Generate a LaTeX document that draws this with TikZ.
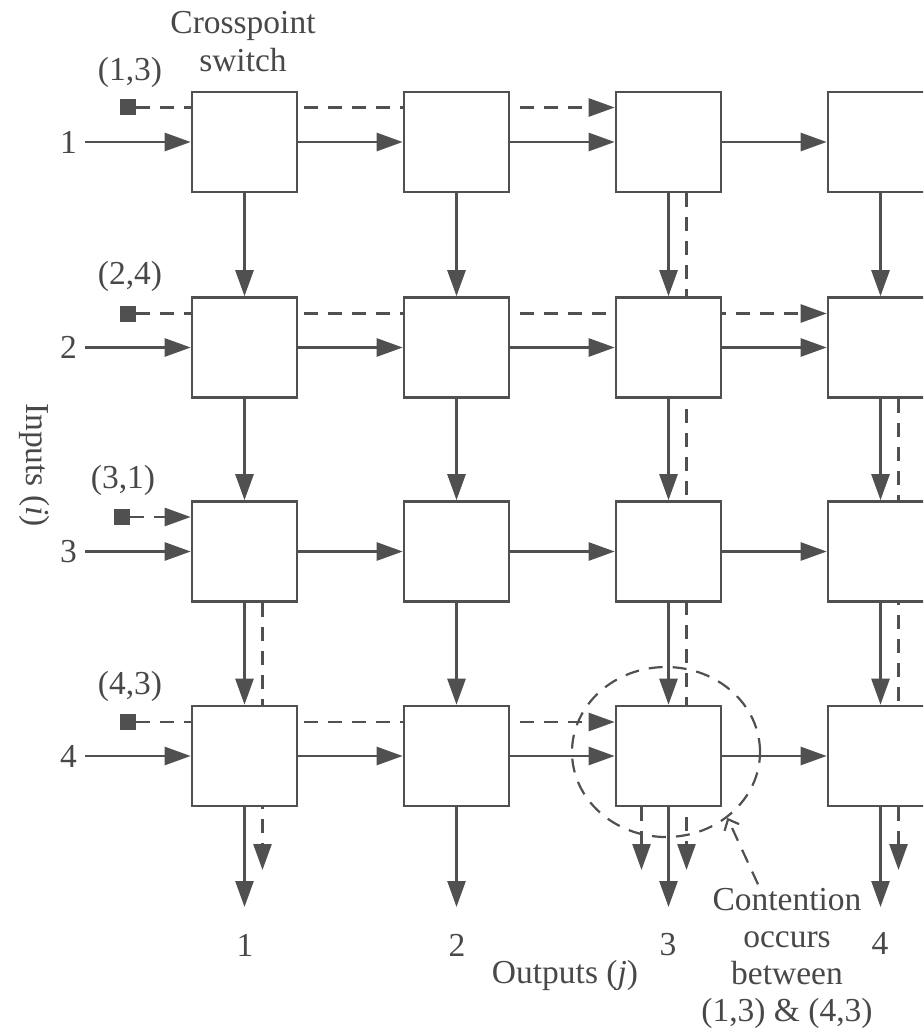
\documentclass[tikz,border=0pt]{standalone}
\usepackage{fontspec}
\setmainfont{Liberation Serif}
\usetikzlibrary{arrows.meta,shapes.geometric,backgrounds}
\definecolor{ink}{HTML}{505050}
\definecolor{txt}{HTML}{484848}
\begin{document}
\begin{tikzpicture}[x=1pt,y=-1pt,
  every node/.style={text=txt, font=\fontsize{33.5}{37}\selectfont},
  sw/.style={draw=ink, fill=white, line width=2.6pt, minimum width=105pt, minimum height=100pt, inner sep=0pt},
  ln/.style={draw=ink, line width=2.6pt},
  arr/.style={ln, -{Triangle[length=26pt,width=18pt]}},
  dsh/.style={ln, dash pattern=on 14pt off 10pt},
  darr/.style={dsh, -{Triangle[length=26pt,width=18pt]}},
  sq/.style={fill=ink, minimum size=16pt, inner sep=0pt},
  inl/.style={anchor=east, inner xsep=8pt, inner ysep=0pt}]
\useasboundingbox (0,0) rectangle (923,1035);
\clip (0,0) rectangle (923,1035);
% switch boxes
\foreach \r/\y in {1/142,2/347.5,3/551.5,4/756}{
  \foreach \c/\x in {1/244.5,2/456.5,3/668.5,4/880.5}{
    \node[sw] (b\r\c) at (\x,\y) {};
  }
}
% input labels
\node[inl] (in1) at (85,142) {1};
\node[inl] (in2) at (85,347.5) {2};
\node[inl] (in3) at (85,551.5) {3};
\node[inl] (in4) at (85,756) {4};
% request squares and labels
\node[sq] (sq13) at (128,107.5) {};
\node[sq] (sq24) at (128,313.5) {};
\node[sq] (sq31) at (122,517) {};
\node[sq] (sq43) at (128,722) {};
\node (l13) at (130,72) {(1,3)};
\node (l24) at (130,276) {(2,4)};
\node (l31) at (123,480) {(3,1)};
\node (l43) at (130,686) {(4,3)};
% output end points
\coordinate (o1) at (244.5,907);
\coordinate (o2) at (456.5,907);
\coordinate (o3) at (668.5,907);
\coordinate (o4) at (880.5,907);
\coordinate (d13) at (686.5,870);
\coordinate (d43) at (641.5,870);
\coordinate (d24) at (898.5,870);
\coordinate (d31) at (262.5,870);
\begin{scope}[on background layer]
  % solid horizontal
  \foreach \r in {1,2,3,4}{
    \draw[arr] (in\r.east) -- (b\r1.west);
    \draw[arr] (b\r1.east) -- (b\r2.west);
    \draw[arr] (b\r2.east) -- (b\r3.west);
    \draw[arr] (b\r3.east) -- (b\r4.west);
  }
  % solid vertical
  \foreach \c in {1,2,3,4}{
    \draw[arr] (b1\c.south) -- (b2\c.north);
    \draw[arr] (b2\c.south) -- (b3\c.north);
    \draw[arr] (b3\c.south) -- (b4\c.north);
    \draw[arr] (b4\c.south) -- (o\c);
  }
  % dashed request paths
  \draw[darr] (sq13.east) -- (sq13 -| b13.west);
  \draw[darr] ([xshift=18pt]b13.south) -- (d13);
  \draw[darr] (sq24.east) -- (sq24 -| b24.west);
  \draw[darr] ([xshift=18pt]b24.south) -- (d24);
  \draw[darr] (sq31.east) -- (sq31 -| b31.west);
  \draw[darr] ([xshift=18pt]b31.south) -- (d31);
  \draw[darr] (sq43.east) -- (sq43 -| b43.west);
  \draw[darr] ([xshift=-27pt]b43.south) -- (d43);
\end{scope}
% texts
\node[align=center, font=\fontsize{33.5}{38}\selectfont] (cps) at (243,42) {Crosspoint\\switch};
\node (ol1) at (245,945) {1};
\node (ol2) at (457,945) {2};
\node (ol3) at (668,945) {3};
\node (ol4) at (880,943) {4};
\node (outs) at (565,975) {Outputs (\textit{j})};
\node[rotate=-90] (ins) at (35,465) {Inputs (\textit{i})};
\node[align=center] (cont) at (787,958) {Contention\\occurs\\between\\(1,3) \& (4,3)};
% contention circle
\node[ellipse, draw=ink, line width=2.2pt, dash pattern=on 14pt off 10pt, minimum width=188pt, minimum height=170pt, inner sep=0pt] (circ) at (666,752) {};
\draw[dsh, line width=2.2pt, -{Straight Barb[length=9pt,width=16pt]}] ([xshift=-29pt]cont.north) -- (circ.-47);
\end{tikzpicture}
\end{document}
